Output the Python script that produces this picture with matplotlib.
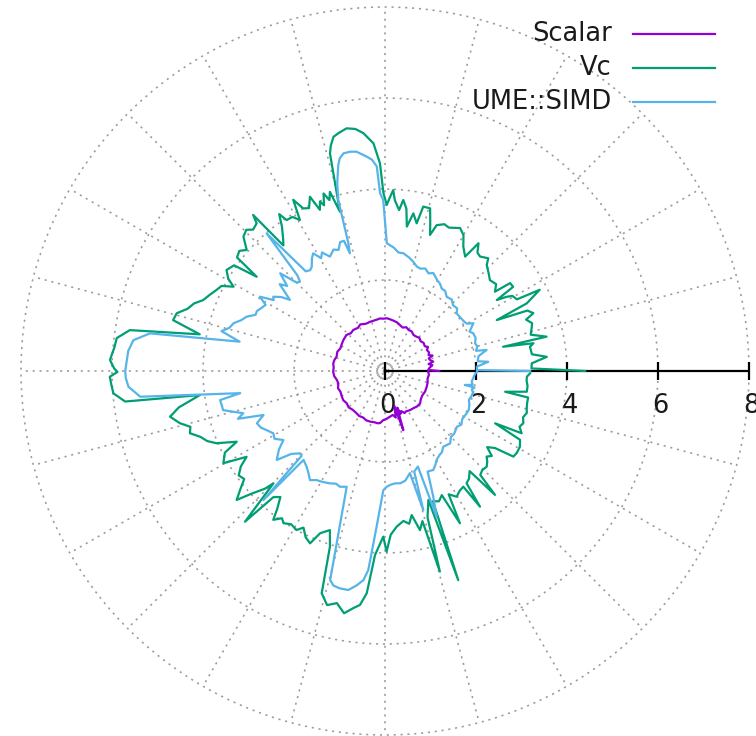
import numpy as np
import matplotlib
matplotlib.use("Agg")
import matplotlib.pyplot as plt

# ---- series: angle (degrees) and speedup value ----
scalar_deg = [0, 1.5, 4, 7, 9, 11, 13.7, 16, 18, 20, 23, 26.7, 29, 32, 36, 40, 44, 48, 51.8, 56,
              60, 64, 68, 71.9, 76, 80, 84, 88, 92, 95.4, 100, 106.9, 112, 118, 122, 127.7, 132,
              137, 143.4, 148, 153, 158, 163.5, 168, 172, 176, 181, 186, 190, 194.8, 200, 205,
              210, 215, 220.1, 225, 230, 236.2, 240, 245, 249, 253.5, 258, 262, 264.5, 268, 272,
              276.2, 280, 283, 285, 287.2, 288.5, 290, 292, 295, 297, 302.7, 308, 312, 317.3,
              322, 327, 333, 339.4, 345, 350, 355, 358.7]
scalar_val = [1.19, 0.95, 0.98, 1.05, 0.97, 1.08, 1.02, 1.00, 1.10, 1.02, 1.05, 1.03, 1.08, 1.03,
              1.05, 1.02, 1.05, 1.02, 1.01, 1.05, 1.04, 1.07, 1.03, 1.06, 1.10, 1.12, 1.14, 1.16,
              1.15, 1.16, 1.14, 1.13, 1.12, 1.16, 1.12, 1.14, 1.12, 1.16, 1.14, 1.12, 1.10, 1.13,
              1.11, 1.14, 1.15, 1.13, 1.14, 1.12, 1.08, 1.06, 1.10, 1.08, 1.10, 1.12, 1.10, 1.13,
              1.11, 1.12, 1.14, 1.13, 1.16, 1.16, 1.15, 1.16, 1.15, 1.08, 1.05, 1.01, 0.98, 1.05,
              0.80, 1.36, 0.85, 1.00, 0.95, 1.02, 1.00, 1.02, 1.03, 1.05, 1.05, 1.00, 0.98, 0.99,
              0.98, 0.97, 0.95, 0.97, 0.95]

vc_deg = [0, 1.0, 3.0, 5.0, 6.5, 9.5, 10.6, 11.6, 12.0, 14, 16, 18, 20, 21.3, 23, 24.5, 25.5,
          27.7, 28.5, 30.5, 31.4, 32.4, 33.3, 35.1, 35.8, 38, 40.9, 43, 46.2, 47.5, 50.3, 52,
          53.8, 55, 57.8, 60, 62.3, 64, 66, 68, 70.5, 71.7, 73, 74.5, 76.9, 77.9, 79.8, 81.4,
          82.5, 83.9, 85, 86.7, 87.4, 88.5, 89.4, 90.5,
          91.4, 92.9, 95.2, 97, 99, 101, 102.4, 103.5, 104.2, 104.9, 105.8,
          107.1, 108, 109.1, 110.2, 111, 112, 113.3, 115, 116.7, 118.2, 119.4, 121, 123.1, 124,
          125.5, 127.8, 129.0, 130.2, 131, 133, 134.5, 136.5, 138.8, 140.5, 142.5, 143.7, 145,
          147.5, 149.5, 150.9, 152.5, 154.3, 156.5, 158.7, 160.5, 162.5, 164.5, 166.5, 168.8,
          170.9, 173, 175, 177.7, 179.5, 180.2, 181.2, 183, 184.7, 186.7, 187.4,
          190, 192, 194.3, 196, 197.7, 199.6, 201.5, 203.2, 205.5, 207, 209.7, 211.8, 213.5,
          215.5, 217.5, 219.2, 221, 222.5, 224.4, 225.2, 227.1, 228.5, 230.3, 232, 233.1, 235,
          236.3, 238.5, 240.9, 242.5, 244.5, 246.5, 248.2, 250.9,
          252.6, 254.1, 256.1, 258.3, 260.4, 262.5, 263.9, 265.3, 266.9,
          269.4, 270.5, 272, 274.3, 277, 279, 280.5, 282.4, 284, 285.3, 286.2, 288.6, 289.3,
          290.2, 292.5, 294.6, 296.2, 297.3, 299.7, 302, 304.1, 305, 306, 308, 310.2, 311.6,
          312.5, 314.5, 316.7, 318.5, 319.9, 321.5, 323.3, 325, 326.3, 328, 330.7, 333, 334.6,
          335.5, 337.5, 339.3, 341.5, 343.5, 345.3, 347.5, 349.5, 350.2, 351.7, 354, 356,
          357.7, 359.1]
vc_val = [4.40, 3.22, 3.23, 3.57, 3.25, 3.23, 3.32, 2.65, 3.63, 3.30, 3.35, 3.40, 3.30, 3.50,
          3.40, 2.70, 3.45, 3.84, 3.30, 3.25, 3.13, 2.91, 3.37, 3.36, 2.98, 3.10, 3.05, 3.12,
          3.23, 3.36, 3.27, 3.30, 3.48, 3.07, 3.23, 3.45, 3.55, 3.50, 3.45, 3.48, 3.40, 3.15,
          3.40, 3.71, 3.71, 3.32, 3.52, 3.21, 3.60, 3.78, 3.55, 3.76, 3.98, 3.80, 3.65, 3.91,
          4.57, 5.01, 5.25, 5.36, 5.40, 5.33, 5.27, 5.10, 4.93, 4.27, 3.64,
          4.12, 3.95, 4.13, 3.88, 3.99, 3.82, 4.17, 3.95, 4.00, 4.27, 3.81, 3.95, 3.96, 4.16,
          3.90, 3.65, 3.55, 4.49, 4.30, 4.25, 4.35, 4.29, 4.04, 4.15, 4.10, 3.50, 4.05, 4.13,
          4.00, 3.81, 4.05, 4.11, 4.20, 4.29, 4.45, 4.55, 4.75, 4.79, 4.15,
          5.68, 5.94, 5.97, 6.05, 5.95, 5.88, 6.05, 6.02, 5.99, 5.75, 4.10,
          4.60, 4.83, 4.65, 4.45, 4.50, 4.31, 4.20, 4.03, 3.61, 3.95, 4.09, 3.58, 3.80, 3.95,
          3.90, 4.10, 4.32, 4.00, 3.70, 3.48, 4.52, 3.70, 3.60, 3.85, 4.09, 3.95, 4.02, 3.95,
          4.00, 3.88, 4.05, 4.13, 3.84, 3.70,
          4.05, 5.08, 5.30, 5.21, 5.40, 5.25, 5.17, 4.90, 4.05,
          3.64, 3.97, 3.60, 3.43, 3.32, 3.40, 3.22, 3.58, 3.40, 4.57, 3.35, 2.99, 4.87, 3.05,
          3.10, 3.00, 3.73, 3.05, 3.18, 3.10, 3.07, 3.64, 3.05, 3.00, 2.88, 3.64, 3.10, 3.05,
          3.07, 3.00, 2.92, 3.00, 2.80, 2.95, 3.39, 3.41, 3.40, 3.33, 2.68, 3.30, 3.20, 3.25,
          3.20, 3.25, 3.22, 3.20, 3.20, 2.68, 3.15, 3.15, 3.12, 3.12, 3.19]

ume_deg = [0, 0.6, 2.7, 5.1, 6, 9, 11.7, 12.5, 15, 17.1, 20, 23.1, 25, 28.4, 30, 32, 35.9, 38.8,
           41, 44, 47, 50.3, 53, 55.5, 57.9, 60, 63.7, 66, 68.5, 71, 73.1, 75.5, 78, 81.2, 83.5,
           86, 89.2, 90.6,
           91.6, 92.3, 93.5, 94.9, 97.4, 99, 100.8, 102, 102.8, 104.3, 105.3, 106, 106.6,
           107.5, 109.2, 111, 113, 115.7, 118, 119.5, 121.4, 123, 125.1, 126.6, 128.5, 130.7,
           132.5, 133.6, 135, 137, 139, 140.5, 143.2, 144.5, 146.4, 147.5, 149.3, 151, 153, 155,
           156.5, 158.6, 160.5, 162.5, 164.5, 166.3, 168.6,
           170.9, 173, 175.5, 177.6, 180, 181.5, 183.5, 186, 188.7,
           190, 193.6, 196.6, 198, 199.9, 202.2, 204.5, 206.5, 209.2, 211.5, 214.2, 216.5, 219.4,
           221.5, 224.1, 225.5, 226.7, 227.5, 230.7, 233, 235.5, 237.9, 240.5, 243.9, 246.5,
           248.7, 251.7,
           255.3, 256.5, 258.3, 260.5, 262.5, 264.1, 265.2, 266.9,
           269.2, 271, 273, 275, 277.8, 280.5, 283.7, 285.4, 286.2, 288, 289, 289.5, 291, 293,
           296, 298, 300.1, 303, 305, 307.6, 310, 312, 315, 318, 322.2, 325, 328, 332.6, 335,
           338, 341, 345.8, 348, 349.5, 350.1, 351, 353, 356, 358, 359.5]
ume_val = [3.19, 2.02, 2.02, 2.28, 2.05, 2.08, 2.28, 2.05, 2.10, 2.07, 2.12, 2.11, 2.05, 2.21,
           2.08, 2.05, 2.03, 2.02, 2.10, 2.08, 2.15, 2.12, 2.20, 2.20, 2.27, 2.30, 2.40, 2.35,
           2.42, 2.38, 2.40, 2.48, 2.55, 2.62, 2.62, 2.72, 2.81, 3.76,
           3.91, 4.50, 4.65, 4.73, 4.86, 4.88, 4.87, 4.78, 4.64, 4.25, 3.90, 2.92, 2.70,
           3.00, 3.00, 2.85, 2.90, 2.79, 2.95, 2.85, 3.03, 2.95, 2.80, 2.76, 2.80, 3.99,
           2.85, 2.71, 2.75, 3.15, 2.85, 3.00, 2.61, 2.80, 2.95, 2.90, 3.20, 3.00, 3.05, 3.11,
           3.10, 3.27, 3.35, 3.49, 3.55, 3.70, 3.26,
           5.23, 5.57, 5.66, 5.68, 5.71, 5.70, 5.65, 5.41, 3.22,
           3.68, 3.66, 3.25, 3.40, 2.84, 3.04, 3.00, 2.91, 2.81, 2.85, 2.70, 2.90, 3.08,
           2.75, 2.60, 2.62, 3.90, 2.65, 2.72, 2.80, 2.91, 2.83, 2.80, 2.75, 2.70,
           2.73, 2.68,
           4.75, 4.85, 4.88, 4.88, 4.75, 4.62, 4.39, 3.43,
           2.62, 2.54, 2.50, 2.48, 2.49, 2.45, 2.31, 3.17, 2.30, 2.25, 2.22, 3.40, 2.96, 2.40,
           2.42, 2.35, 2.26, 2.20, 2.18, 2.10, 2.12, 2.14, 2.05, 2.05, 2.00, 2.05, 2.00, 2.02,
           2.03, 2.00, 1.95, 2.00, 1.95, 2.00, 1.78, 1.95, 1.92, 1.95, 1.98, 2.02]

series = [("Scalar", scalar_deg, scalar_val, "#9400d3"),
          ("Vc", vc_deg, vc_val, "#009e73"),
          ("UME::SIMD", ume_deg, ume_val, "#56b4e9")]

r_ticks = [0, 2, 4, 6, 8]
r_max = 8

# ---- figure: cartesian axes holding the polar plot ----
fig = plt.figure(figsize=(7.56, 7.36), dpi=100)
ax = fig.add_axes([0, 0, 1, 1])
ax.set_xlim(-8.462, 8.154)
ax.set_ylim(-8.022, 8.154)
ax.axis("off")

# polar grid: circles at each r tick, spokes every 15 degrees
grid_kw = dict(color="#9a9a9a", lw=1.15, ls=(0, (1.3, 3.0)), zorder=1)
t = np.linspace(0, 2 * np.pi, 721)
for rr in [0.08] + r_ticks[1:]:
    ax.plot(rr * np.cos(t), rr * np.sin(t), **grid_kw)
for a in np.deg2rad(np.arange(0, 360, 15)):
    ax.plot([0, r_max * np.cos(a)], [0, r_max * np.sin(a)], **grid_kw)

# radial axis along theta = 0
ax.plot([0, r_max], [0, 0], color="black", lw=1.6, zorder=2, solid_capstyle="butt")
for v in r_ticks:
    ax.plot([v, v], [-0.19, 0.19], color="black", lw=1.6, zorder=2, solid_capstyle="butt")
    ax.text(v + 0.06, -0.78, str(v), ha="center", va="center", fontsize=18.5,
            color="#1a1a1a", zorder=2)

# data curves
for name, deg, val, col in series:
    th = np.deg2rad(np.asarray(deg, dtype=float))
    rv = np.asarray(val, dtype=float)
    ax.plot(rv * np.cos(th), rv * np.sin(th), color=col, lw=1.6, zorder=3,
            solid_joinstyle="round")

# key in the top right corner: label, then line sample
for i, (name, deg, val, col) in enumerate(series):
    y = 7.41 - 0.75 * i
    ax.text(4.99, y, name, ha="right", va="center", fontsize=18.5, color="#1a1a1a")
    ax.plot([5.45, 7.25], [y, y], color=col, lw=1.6)

fig.savefig("out.png", dpi=100)
